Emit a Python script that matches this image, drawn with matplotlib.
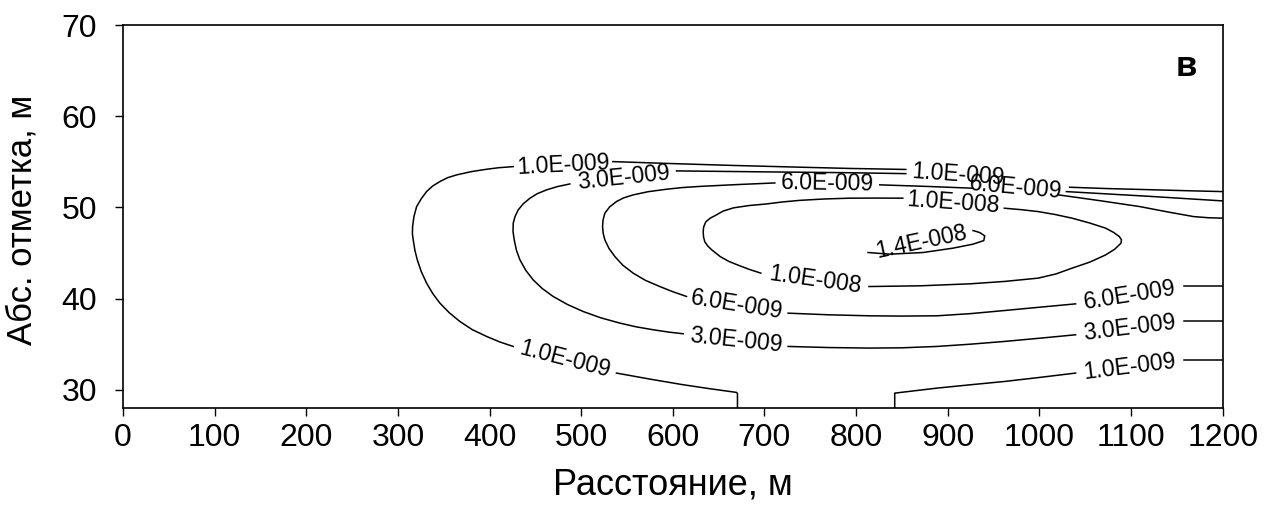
import numpy as np
import matplotlib.pyplot as plt

plt.rcParams['font.family'] = ['Liberation Sans', 'DejaVu Sans']

# contour lines (x: distance, m; y: elevation, m),
# split into pieces where the inline labels sit
c_1e9 = [
    ([425.8, 410.0, 396.7, 380.0, 364.0, 354.0, 345.8, 338.0, 331.3, 325.5, 320.4, 317.5, 316.0,
      315.8, 316.7, 318.5, 321.1, 325.5, 331.3, 338.0, 345.8, 356.0, 367.6, 381.0, 396.7, 411.0, 425.8],
     [54.47, 54.35, 54.18, 53.92, 53.56, 53.25, 52.83, 52.35, 51.74, 50.95, 50.09, 49.00, 47.90,
      47.10, 46.44, 45.30, 44.25, 42.95, 41.69, 40.55, 39.50, 38.45, 37.49, 36.60, 35.85, 35.25, 34.75]),
    ([534.5, 600.0, 665.4, 730.0, 793.1, 854.2], [55.02, 54.80, 54.60, 54.43, 54.27, 54.16]),
    ([1033.0, 1075.0, 1120.3, 1160.0, 1200.0], [52.21, 52.06, 51.94, 51.83, 51.73]),
    ([538.5, 574.9, 611.3, 640.0, 669.4, 670.5, 670.5], [31.83, 31.17, 30.55, 30.12, 29.71, 29.6, 28.0]),
    ([842.1, 842.1, 888.2, 925.0, 962.0, 1000.0, 1039.5], [28.0, 29.63, 30.18, 30.55, 30.91, 31.35, 31.83]),
    ([1157.6, 1200.0], [33.21, 33.21]),
]
c_3e9 = [
    ([487.6, 474.0, 462.2, 452.0, 444.0, 436.8, 431.3, 427.8, 425.8, 425.6, 426.9, 429.3, 433.1,
      439.5, 447.6, 457.5, 469.4, 485.0, 502.2, 521.0, 542.2, 560.0, 578.5, 595.0, 611.3],
     [52.57, 52.28, 51.92, 51.50, 51.00, 50.40, 49.73, 49.00, 48.26, 47.35, 46.44, 45.30, 44.25,
      43.10, 42.05, 41.10, 40.23, 39.35, 38.58, 37.90, 37.31, 36.90, 36.58, 36.33, 36.14]),
    ([604.0, 650.0, 694.9, 745.0, 793.1, 854.2], [54.0, 53.95, 53.9, 53.85, 53.8, 53.7]),
    ([1029.4, 1075.0, 1120.3, 1160.0, 1200.0], [51.73, 51.47, 51.21, 50.96, 50.71]),
    ([725.8, 770.0, 814.4, 850.0, 888.2, 925.0, 962.0, 1000.0, 1039.5],
     [34.75, 34.63, 34.57, 34.60, 34.75, 35.00, 35.30, 35.65, 36.03]),
    ([1157.6, 1200.0], [37.49, 37.49]),
]
c_6e9 = [
    ([711.3, 670.0, 629.4, 610.0, 593.1, 573.0, 556.7, 546.0, 538.5, 531.0, 525.8, 523.8, 523.3,
      524.0, 525.8, 530.3, 536.7, 545.5, 556.7, 570.0, 585.8, 600.0, 614.9],
     [52.68, 52.50, 52.30, 52.17, 51.99, 51.72, 51.37, 51.03, 50.64, 50.05, 49.36, 48.60, 47.90,
      47.15, 46.44, 45.50, 44.61, 43.65, 42.79, 42.00, 41.32, 40.75, 40.23]),
    ([825.8, 877.0, 927.6], [52.47, 52.30, 52.10]),
    ([1020.8, 1065.0, 1109.4, 1140.0, 1168.3, 1185.0, 1200.0], [51.37, 50.75, 50.09, 49.50, 48.99, 48.86, 48.82]),
    ([725.8, 770.0, 814.4, 850.0, 888.2, 925.0, 962.0, 1000.0, 1039.5],
     [38.40, 38.22, 38.11, 38.08, 38.11, 38.35, 38.69, 39.05, 39.42]),
    ([1157.6, 1200.0], [41.40, 41.40]),
]
c_1e8 = [
    ([850.9, 820.0, 793.1, 765.0, 738.6, 720.0, 702.5, 683.0, 666.3, 655.0, 647.6, 640.5, 635.9,
      633.6, 633.1, 633.5, 634.9, 638.2, 642.5, 651.6, 661.0, 673.1, 684.0, 696.0],
     [51.01, 51.02, 51.01, 50.92, 50.77, 50.60, 50.38, 50.20, 49.95, 49.60, 49.18, 48.80, 48.41,
      47.85, 47.32, 46.75, 46.22, 45.75, 45.34, 44.61, 44.08, 43.59, 43.18, 42.79]),
    ([814.0, 870.0, 924.7, 962.0, 998.6, 1018.0, 1035.5, 1055.0, 1072.3, 1082.0, 1089.0, 1089.5,
      1087.2, 1081.0, 1072.3, 1055.0, 1035.5, 1017.0, 998.6, 980.0, 961.7],
     [41.32, 41.40, 41.62, 41.88, 42.24, 42.70, 43.33, 44.00, 44.79, 45.40, 46.07, 46.45,
      46.80, 47.25, 47.72, 48.28, 48.82, 49.22, 49.54, 49.75, 49.91]),
]
c_14e8 = [
    ([813.0, 836.7, 873.0, 905.8, 927.6, 939.3, 940.3, 934.9, 927.6],
     [45.05, 44.87, 45.05, 45.53, 45.97, 46.36, 46.88, 47.24, 47.46]),
]

# inline labels: text, x, y, angle
lab_text = ['1.0E-009', '1.0E-009', '1.0E-009', '1.0E-009',
            '3.0E-009', '3.0E-009', '3.0E-009',
            '6.0E-009', '6.0E-009', '6.0E-009', '6.0E-009',
            '1.0E-008', '1.0E-008', '1.4E-008']
lab_x = [480.0, 911.0, 482.2, 1098.5,
         545.8, 668.5, 1098.5,
         768.5, 974.0, 670.3, 1098.5,
         906.3, 755.0, 871.2]
lab_y = [54.6, 53.56, 33.29, 32.52,
         53.3, 35.45, 36.76,
         52.6, 52.2, 39.3, 40.41,
         50.46, 42.05, 46.25]
lab_rot = [3, -4, -14.5, 7,
           6, -6, 7,
           -1, -5, -9, 9,
           -4, -8, 12]

xticks = np.arange(0, 1201, 100)
yticks = np.arange(30, 71, 10)

fig = plt.figure(figsize=(12.77, 5.12), dpi=100)
ax = fig.add_axes([123 / 1277, 1 - 408 / 512, (1222.7 - 123) / 1277, (408 - 25) / 512])

for level in [c_1e9, c_3e9, c_6e9, c_1e8, c_14e8]:
    for xs, ys in level:
        ax.plot(xs, ys, color='black', lw=1.1, solid_joinstyle='round')

for t, x, y, r in zip(lab_text, lab_x, lab_y, lab_rot):
    ax.text(x, y, t, rotation=r, rotation_mode='anchor', ha='center', va='center',
            fontsize=16.5, color='black')

ax.text(1160.7, 65.4, 'в', fontweight='bold', fontsize=25, ha='center', va='center')

ax.set_xlim(0, 1200)
ax.set_ylim(28, 70)
ax.set_xticks(xticks)
ax.set_yticks(yticks)
ax.tick_params(direction='out', length=5.5, width=1.0, labelsize=23, top=False, right=False)
ax.tick_params(axis='y', pad=13)
ax.tick_params(axis='x', pad=5)
for s in ax.spines.values():
    s.set_linewidth(1.2)

ax.set_xlabel('Расстояние, м', fontsize=26)
ax.set_ylabel('Абс. отметка, м', fontsize=25)
ax.xaxis.set_label_coords(0.5, -0.155)
ax.yaxis.set_label_coords(-0.077, 0.49)

fig.savefig('out.png', dpi=100)
